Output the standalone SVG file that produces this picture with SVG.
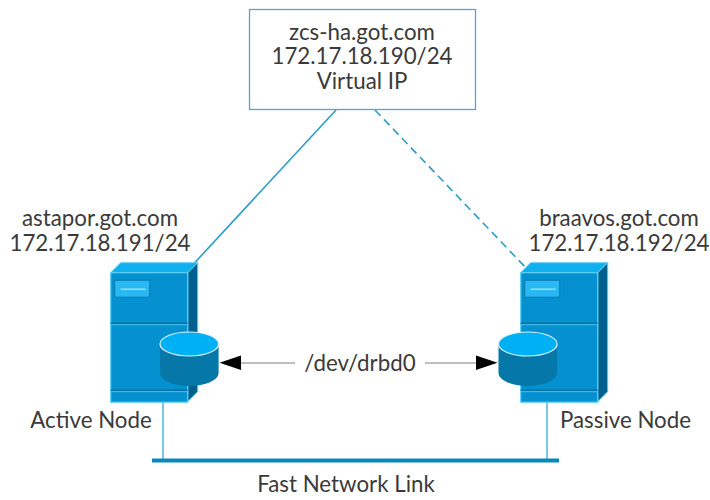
<svg xmlns="http://www.w3.org/2000/svg" width="710" height="500" viewBox="0 0 710 500">
<style>
text{font-family:"Lato","Liberation Sans",sans-serif;font-size:22.3px;fill:#3a3a3a;text-anchor:middle}
.front{fill:#0590d0;stroke:#5fd0f5;stroke-width:1.2}
.top{fill:#10b0ee;stroke:#5fd0f5;stroke-width:1}
.side{fill:#005f8c;stroke:#5fd0f5;stroke-width:1}
.seam{stroke:#0a6a9a;stroke-width:1.2;fill:none}
.seam2{stroke:#4cc0ea;stroke-width:1;fill:none}
.badge{fill:#2ab8f5;stroke:#0a78aa;stroke-width:1}
.cylb{fill:#0577a8}
.cylt{fill:#00b0f5;stroke:#d8f2fc;stroke-width:1.2}
.link{stroke:#2a9cc8;stroke-width:1.6;fill:none}
.drop{stroke:#7cc6e6;stroke-width:2;fill:none}
.arr{stroke:#aaa;stroke-width:1.5;fill:none}
</style>
<defs>
<g id="srv">
<path class="top" d="M0 10 L10 0 H87 L77 10Z"/>
<path class="side" d="M77 10 L87 0 V129 L77 139Z"/>
<rect class="front" x="0" y="10" width="77" height="129.500"/>
<path class="seam" d="M0 60.500H77M0 127.500H77"/>
<path class="seam2" d="M0 62H77M0 129H77"/>
<rect class="badge" x="4" y="17.500" width="35" height="17"/>
<path d="M10 26.500H35" stroke="#a8e6fb" stroke-width="1.300"/>
</g>
<g id="cyl">
<path class="cylb" d="M0 0V29A29.300 13 0 0 0 58.600 29V0Z"/>
<ellipse class="cylt" cx="29.300" cy="0" rx="29.300" ry="12"/>
</g>
</defs>
<g id="connectors">
<path class="link" d="M336 110L188 270"/>
<path class="link" stroke-dasharray="8 5" d="M375 110L528 270"/>
<path class="drop" d="M163 402V460M547 402V460"/>
<path d="M152 460.500H559" stroke="#0a86bd" stroke-width="4" fill="none"/>
<path class="arr" d="M240 363H295M425 363H478"/>
<path d="M219.500 362.700L241 355.500V370Z" fill="#000"/>
<path d="M497.500 362.700L476 355.500V370Z" fill="#000"/>
</g>
<g id="vip">
<rect x="249.500" y="9.500" width="226" height="100" fill="#fff" stroke="#5a9fd8" stroke-width="1.300"/>
<text x="362" y="39.500">zcs-ha.got.com</text>
<text x="362" y="64">172.17.18.190/24</text>
<text x="362" y="88.500">Virtual IP</text>
</g>
<g id="astapor">
<use href="#srv" x="110.700" y="262.700"/>
<use href="#cyl" x="160" y="344"/>
<text x="100" y="226">astapor.got.com</text>
<text x="100" y="251">172.17.18.191/24</text>
<text x="91" y="428">Active Node</text>
</g>
<g id="braavos">
<use href="#srv" x="520.700" y="262.700"/>
<use href="#cyl" x="498.500" y="344"/>
<text x="619" y="226">braavos.got.com</text>
<text x="619" y="251">172.17.18.192/24</text>
<text x="625.500" y="428">Passive Node</text>
</g>
<g id="drbd"><text x="360" y="371">/dev/drbd0</text></g>
<g id="network"><text x="346" y="492">Fast Network Link</text></g>
</svg>
